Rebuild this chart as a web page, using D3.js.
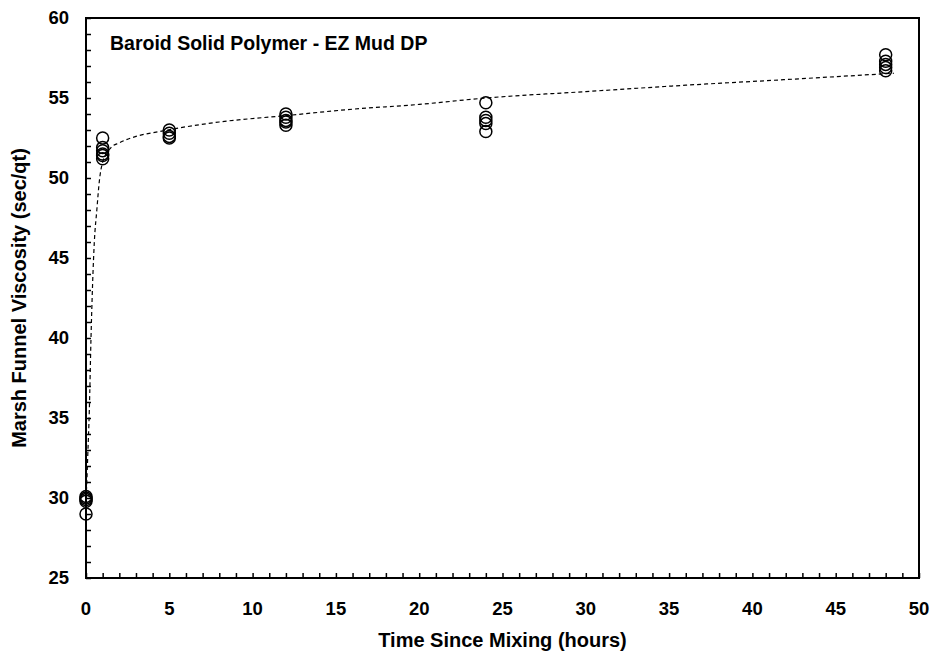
<!DOCTYPE html>
<html>
<head>
<meta charset="utf-8">
<script src="https://cdn.jsdelivr.net/npm/d3@7"></script>
<style>
  body { margin: 0; background: #fff; }
  text { font-family: "Liberation Sans", Arial, sans-serif; font-weight: bold; fill: #000; }
</style>
</head>
<body>
<svg id="graph" width="935" height="657"></svg>
<script>
// Measured points (hours since mixing, viscosity in sec/qt)
const sampleHours = [0, 0, 0, 0, 0,
  1, 1, 1, 1, 1, 1,
  5, 5, 5, 5,
  12, 12, 12, 12, 12,
  24, 24, 24, 24, 24,
  48, 48, 48, 48, 48];
const viscosity = [30.1, 30.0, 29.9, 29.8, 29.0,
  52.5, 51.9, 51.7, 51.5, 51.4, 51.2,
  53.0, 52.8, 52.6, 52.5,
  54.0, 53.8, 53.6, 53.5, 53.3,
  54.7, 53.8, 53.6, 53.4, 52.9,
  57.7, 57.3, 57.1, 56.9, 56.7];

// Trend line
const trendHours = [0, 0.05, 0.1, 0.2, 0.3, 0.4, 0.5, 0.65, 0.8, 1.0, 1.5, 2, 3, 4.4, 6, 8, 12, 16, 20, 24, 30, 36, 42, 48.5];
const trendVisc = [30.0, 31.0, 32.5, 35.5, 40.0, 43.5, 46.0, 48.0, 49.8, 51.0, 51.9, 52.2, 52.6, 52.9, 53.2, 53.5, 53.9, 54.3, 54.6, 55.0, 55.4, 55.8, 56.15, 56.55];

const xTicks = [0, 5, 10, 15, 20, 25, 30, 35, 40, 45, 50];
const yTicks = [25, 30, 35, 40, 45, 50, 55, 60];

const chartTitle = "Baroid Solid Polymer - EZ Mud DP";
const xTitle = "Time Since Mixing (hours)";
const yTitle = "Marsh Funnel Viscosity (sec/qt)";

const drawChart = () => {
  const svg = d3.select("#graph"),
    margin = {top: 18, right: 16, bottom: 79, left: 86},
    width = svg.attr("width") - margin.left - margin.right,
    height = svg.attr("height") - margin.top - margin.bottom;

  const x = d3.scaleLinear().domain([0, 50]).range([0, width]);
  const y = d3.scaleLinear().domain([25, 60]).range([height, 0]);

  const g = svg.append("g")
    .attr("transform", `translate(${margin.left},${margin.top})`);

  // minor ticks, pointing inward
  g.append("g")
    .attr("transform", `translate(0,${height})`)
    .call(d3.axisBottom(x).ticks(50).tickSizeInner(-5).tickSizeOuter(0).tickFormat(""))
    .call(a => a.select(".domain").remove())
    .selectAll("line").attr("stroke-width", 1.5);

  g.append("g")
    .call(d3.axisLeft(y).ticks(35).tickSizeInner(-5).tickSizeOuter(0).tickFormat(""))
    .call(a => a.select(".domain").remove())
    .selectAll("line").attr("stroke-width", 1.5);

  // tick labels
  g.append("g").selectAll("text")
    .data(xTicks)
    .join("text")
    .attr("x", d => x(d))
    .attr("y", height + 37)
    .attr("text-anchor", "middle")
    .style("font-size", "18.5px")
    .text(d => d);

  g.append("g").selectAll("text")
    .data(yTicks)
    .join("text")
    .attr("x", -17)
    .attr("y", d => y(d))
    .attr("dy", "0.35em")
    .attr("text-anchor", "end")
    .style("font-size", "18.5px")
    .text(d => d);

  // frame
  g.append("rect")
    .attr("width", width)
    .attr("height", height)
    .attr("fill", "none")
    .attr("stroke", "#000")
    .attr("stroke-width", 2);

  // axis titles
  g.append("text")
    .attr("x", width / 2)
    .attr("y", height + 69)
    .attr("text-anchor", "middle")
    .style("font-size", "20px")
    .text(xTitle);

  g.append("text")
    .attr("transform", `translate(${-60},${height / 2}) rotate(-90)`)
    .attr("text-anchor", "middle")
    .style("font-size", "20px")
    .text(yTitle);

  g.append("text")
    .attr("x", 24)
    .attr("y", 32)
    .style("font-size", "19.5px")
    .text(chartTitle);

  // dashed trend line
  const trend = trendHours.map((h, i) => ({h, v: trendVisc[i]}));
  const line = d3.line()
    .x(d => x(d.h))
    .y(d => y(d.v))
    .curve(d3.curveMonotoneX);

  g.append("path")
    .datum(trend)
    .attr("fill", "none")
    .attr("stroke", "#000")
    .attr("stroke-width", 1.2)
    .attr("stroke-dasharray", "4,3")
    .attr("d", line);

  // open circle markers
  g.append("g").selectAll("circle")
    .data(sampleHours.map((h, i) => ({h, v: viscosity[i]})))
    .join("circle")
    .attr("cx", d => x(d.h))
    .attr("cy", d => y(d.v))
    .attr("r", 6)
    .attr("fill", "none")
    .attr("stroke", "#000")
    .attr("stroke-width", 1.5);
};

drawChart();
</script>
</body>
</html>
